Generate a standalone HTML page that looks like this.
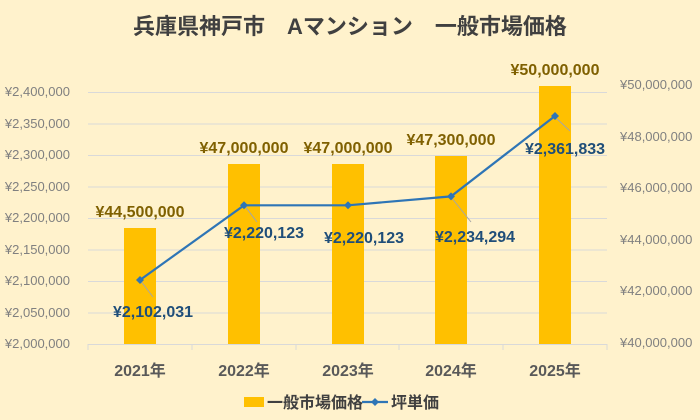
<!DOCTYPE html>
<html><head><meta charset="utf-8"><style>
body{margin:0;background:#FFF2CC;}
svg{display:block;font-family:"Liberation Sans","Noto Sans CJK JP",sans-serif;}
</style></head><body>
<svg width="700" height="420" viewBox="0 0 700 420">
<rect width="700" height="420" fill="#FFF2CC"/>
<text x="350" y="34" text-anchor="middle" font-size="22" font-weight="bold" fill="#404040">兵庫県神戸市　Aマンション　一般市場価格</text>
<g stroke="#D9D9D9" stroke-width="1">
<line x1="88" x2="607" y1="92.5" y2="92.5"/><line x1="88" x2="607" y1="124" y2="124"/>
<line x1="88" x2="607" y1="155.5" y2="155.5"/><line x1="88" x2="607" y1="187" y2="187"/>
<line x1="88" x2="607" y1="218.5" y2="218.5"/><line x1="88" x2="607" y1="250" y2="250"/>
<line x1="88" x2="607" y1="281.5" y2="281.5"/><line x1="88" x2="607" y1="313" y2="313"/>
<line x1="88" x2="607" y1="344.5" y2="344.5"/>
<line x1="88" x2="88" y1="344" y2="350"/><line x1="192" x2="192" y1="344" y2="350"/>
<line x1="296" x2="296" y1="344" y2="350"/><line x1="399" x2="399" y1="344" y2="350"/>
<line x1="503" x2="503" y1="344" y2="350"/><line x1="607" x2="607" y1="344" y2="350"/>
</g>
<g font-size="13" fill="#808080" text-anchor="end">
<text x="70" y="96">¥2,400,000</text><text x="70" y="128">¥2,350,000</text>
<text x="70" y="159">¥2,300,000</text><text x="70" y="191">¥2,250,000</text>
<text x="70" y="222">¥2,200,000</text><text x="70" y="254">¥2,150,000</text>
<text x="70" y="285">¥2,100,000</text><text x="70" y="317">¥2,050,000</text>
<text x="70" y="348">¥2,000,000</text>
</g>
<g font-size="13" fill="#808080">
<text x="620" y="89">¥50,000,000</text><text x="620" y="141">¥48,000,000</text>
<text x="620" y="192">¥46,000,000</text><text x="620" y="244">¥44,000,000</text>
<text x="620" y="295">¥42,000,000</text><text x="620" y="347">¥40,000,000</text>
</g>
<g fill="#FFC000">
<rect x="124" y="228" width="32" height="116"/>
<rect x="228" y="164" width="32" height="180"/>
<rect x="332" y="164" width="32" height="180"/>
<rect x="435" y="156" width="32" height="188"/>
<rect x="539" y="86" width="32" height="258"/>
</g>
<g font-size="16" font-weight="bold" fill="#7F6000" text-anchor="middle">
<text x="140" y="217">¥44,500,000</text><text x="244" y="153">¥47,000,000</text>
<text x="348" y="153">¥47,000,000</text><text x="451" y="145">¥47,300,000</text>
<text x="555" y="75">¥50,000,000</text>
</g>
<g stroke="#A6A6A6" stroke-width="1">
<line x1="140" y1="280" x2="153" y2="297"/><line x1="244" y1="205" x2="257" y2="222"/>
<line x1="451" y1="197" x2="471" y2="222"/><line x1="555" y1="117" x2="570" y2="131"/>
</g>
<polyline points="140,280 244,205.3 348,205.3 451,196.4 555,116" fill="none" stroke="#2E75B6" stroke-width="2.2"/>
<g fill="#2E75B6">
<path d="M140 276l4 4-4 4-4-4z"/><path d="M244 201.3l4 4-4 4-4-4z"/><path d="M348 201.3l4 4-4 4-4-4z"/>
<path d="M451 192.4l4 4-4 4-4-4z"/><path d="M555 112l4 4-4 4-4-4z"/>
</g>
<g font-size="16" font-weight="bold" fill="#1F4E79" text-anchor="middle">
<text x="153" y="317">¥2,102,031</text><text x="264" y="238">¥2,220,123</text>
<text x="364" y="243">¥2,220,123</text><text x="475" y="242">¥2,234,294</text>
<text x="565" y="154">¥2,361,833</text>
</g>
<g font-size="16" font-weight="bold" fill="#595959" text-anchor="middle">
<text x="140" y="376">2021年</text><text x="244" y="376">2022年</text>
<text x="348" y="376">2023年</text><text x="451" y="376">2024年</text>
<text x="555" y="376">2025年</text>
</g>
<rect x="244" y="397" width="20" height="10" fill="#FFC000"/>
<text x="267" y="408" font-size="16" font-weight="bold" fill="#404040">一般市場価格</text>
<line x1="362" x2="388" y1="402" y2="402" stroke="#2E75B6" stroke-width="2.2"/>
<path d="M375 398l4 4-4 4-4-4z" fill="#2E75B6"/>
<text x="391" y="408" font-size="16" font-weight="bold" fill="#404040">坪単価</text>
</svg>
</body></html>
